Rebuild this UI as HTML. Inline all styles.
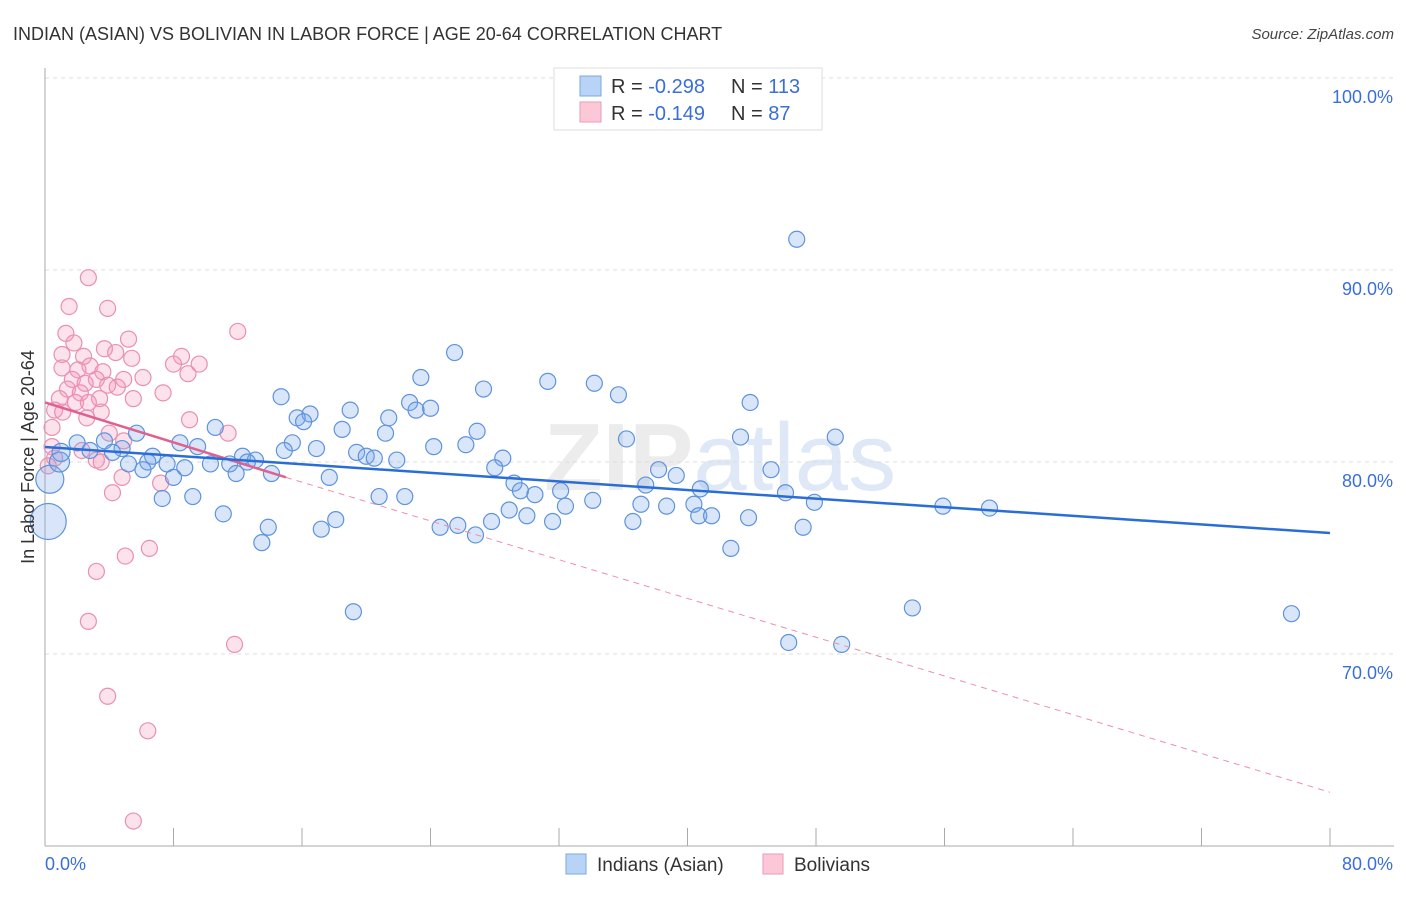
<!DOCTYPE html>
<html><head><meta charset="utf-8">
<style>
body{margin:0;background:#fff;font-family:"Liberation Sans",sans-serif;}
svg text{font-family:"Liberation Sans",sans-serif;}
</style></head>
<body>
<svg id="chart" width="1406" height="892" xmlns="http://www.w3.org/2000/svg">
<text x="13" y="40" font-size="18" fill="#333">INDIAN (ASIAN) VS BOLIVIAN IN LABOR FORCE | AGE 20-64 CORRELATION CHART</text>
<text x="1394" y="39" font-size="15" fill="#444" text-anchor="end" font-style="italic">Source: ZipAtlas.com</text>
<text x="720" y="490" font-size="96" fill="#ececec" text-anchor="middle" font-weight="bold">ZIP<tspan fill="#dfe8f6" font-weight="normal">atlas</tspan></text>
<g id="grid"></g>
<g id="axes"></g>
<g id="pink"></g>
<g id="blue"></g>
<g id="trends"></g>
<text transform="translate(34,457) rotate(-90)" font-size="18" fill="#333" text-anchor="middle">In Labor Force | Age 20-64</text>
<g>
<rect x="554" y="68" width="268" height="62" fill="#fff" stroke="#ddd"/>
<rect x="580" y="76" width="21" height="20" fill="#b8d3f5" stroke="#7aa7e5"/>
<rect x="580" y="102" width="21" height="20" fill="#fcc8d8" stroke="#eb9ab6"/>
<text x="611" y="93" font-size="20" fill="#333">R = <tspan fill="#3a6fd8">-0.298</tspan><tspan x="731">N = </tspan><tspan fill="#3a6fd8">113</tspan></text>
<text x="611" y="120" font-size="20" fill="#333">R = <tspan fill="#3a6fd8"> -0.149</tspan><tspan x="731">N = </tspan><tspan fill="#3a6fd8"> 87</tspan></text>
</g>
<g>
<rect x="566" y="854" width="20" height="20" fill="#b8d3f5" stroke="#7aa7e5"/>
<text x="597" y="871" font-size="19" fill="#333">Indians (Asian)</text>
<rect x="763" y="854" width="20" height="20" fill="#fcc8d8" stroke="#eb9ab6"/>
<text x="794" y="871" font-size="19" fill="#333">Bolivians</text>
</g>
</svg>
<script>
const yTicks=[70,80,90,100];
const yTickLabels=["70.0%","80.0%","90.0%","100.0%"];
const xTickCount=[0,8,16,24,32,40,48,56,64,72,80];
const blueX=[46.8,25.5,23.4,31.3,34.2,27.3,35.7,14.7,22.7,43.9,19.0,24.0,23.1,16.5,15.7,16.1,21.4,18.5,26.9,21.2,10.6,5.7,36.2,43.3,49.2,15.4,8.4,26.2,24.2,16.9,14.9,9.5,3.7,2.0,4.8,2.8,4.2,19.4,20.0,20.5,21.9,28.5,12.3,13.1,6.7,6.4,5.2,7.6,10.3,11.5,12.6,8.7,14.1,11.9,6.1,8.0,28.0,38.2,39.3,45.2,17.7,29.2,37.4,29.6,30.5,32.1,40.8,46.1,20.8,22.4,9.2,7.3,34.1,47.9,55.9,58.8,28.9,32.4,37.1,38.7,40.4,40.7,41.5,11.1,30.0,27.8,31.6,36.6,43.8,18.1,13.9,17.2,24.6,25.7,26.8,47.2,13.5,42.7,19.2,54.0,77.6,46.3,49.6,0.3,0.2,0.9,1.0];
const blueY=[91.6,85.7,84.4,84.2,84.1,83.8,83.5,83.4,83.1,83.1,82.7,82.8,82.7,82.5,82.3,82.1,82.3,81.7,81.6,81.5,81.8,81.5,81.2,81.3,81.3,81.0,81.0,80.9,80.8,80.7,80.6,80.8,81.1,81.0,80.7,80.6,80.5,80.5,80.3,80.2,80.1,80.2,80.3,80.1,80.3,80.0,79.9,79.9,79.9,79.9,80.0,79.7,79.4,79.4,79.6,79.2,79.7,79.6,79.3,79.6,79.2,78.9,78.8,78.5,78.3,78.5,78.6,78.4,78.2,78.2,78.2,78.1,78.0,77.9,77.7,77.6,77.5,77.7,77.8,77.7,77.8,77.2,77.2,77.3,77.2,76.9,76.9,76.9,77.1,77.0,76.6,76.5,76.6,76.7,76.2,76.6,75.8,75.5,72.2,72.4,72.1,70.6,70.5,79.1,76.9,80.0,80.5];
const blueR=[8,8,8,8,8,8,8,8,8,8,8,8,8,8,8,8,8,8,8,8,8,8,8,8,8,8,8,8,8,8,8,8,8,8,8,8,8,8,8,8,8,8,8,8,8,8,8,8,8,8,8,8,8,8,8,8,8,8,8,8,8,8,8,8,8,8,8,8,8,8,8,8,8,8,8,8,8,8,8,8,8,8,8,8,8,8,8,8,8,8,8,8,8,8,8,8,8,8,8,8,8,8,8,14,18,10,9];
const pinkX=[2.7,1.5,3.9,12.0,1.3,5.2,1.8,3.7,8.5,1.06,4.4,2.4,5.4,9.6,8.0,1.06,2.8,2.05,3.6,8.9,6.1,1.7,3.2,4.9,3.9,2.5,4.5,1.4,7.35,2.2,3.4,5.5,0.9,1.9,2.7,0.6,3.5,1.1,2.6,9.0,0.44,11.4,4.0,4.9,0.44,2.3,3.2,0.6,3.5,0.2,4.8,7.2,4.2,6.5,5.0,3.2,2.7,11.8,3.9,6.4,5.5];
const pinkY=[89.6,88.1,88.0,86.8,86.7,86.4,86.2,85.9,85.5,85.6,85.7,85.5,85.4,85.1,85.1,84.9,85.0,84.8,84.7,84.6,84.4,84.3,84.3,84.3,84.0,84.1,83.9,83.8,83.6,83.6,83.3,83.3,83.3,83.1,83.1,82.7,82.6,82.6,82.3,82.2,81.8,81.5,81.5,81.1,80.8,80.6,80.1,80.2,80.0,79.8,79.2,78.9,78.4,75.5,75.1,74.3,71.7,70.5,67.8,66.0,61.3];
const blueTrend=[[0,80.78],[80,76.3]];
const pinkTrend=[[0,83.1],[15,79.2]];
const pinkDash=[[15,79.2],[80,62.8]];
const NS="http://www.w3.org/2000/svg";
const X0=45,X1=1330,Y0=846,Y1=78;
const xs=v=>X0+(v/80)*(X1-X0);
const ys=v=>Y0-((v-60)/40)*(Y0-Y1);
function mk(tag,attrs,parent){const e=document.createElementNS(NS,tag);for(const k in attrs)e.setAttribute(k,attrs[k]);parent.appendChild(e);return e;}
const grid=document.getElementById('grid'),axes=document.getElementById('axes');
yTicks.forEach((t,i)=>{
 const l=mk('line',{x1:X0,x2:1394,y1:ys(t),y2:ys(t),stroke:'#ddd','stroke-dasharray':'4,4'},grid);
 
 
 const tx=mk('text',{x:1393,y:ys(t)+25,'font-size':18,fill:'#3a6fd8','text-anchor':'end'},axes);
 tx.textContent=yTickLabels[i];
 
 
});
const ax=mk('line',{x1:X0,x2:X0,y1:68,y2:Y0,stroke:'#aaa'},axes);


const bx=mk('line',{x1:X0,x2:1394,y1:Y0,y2:Y0,stroke:'#aaa'},axes);


xTickCount.forEach(t=>{
 const l=mk('line',{x1:xs(t),x2:xs(t),y1:Y0,y2:Y0-18,stroke:'#aaa'},axes);
 
 
});
const xl=mk('text',{x:45,y:870,'font-size':18,fill:'#3a6fd8'},axes);xl.textContent='0.0%';


const xr=mk('text',{x:1393,y:870,'font-size':18,fill:'#3a6fd8','text-anchor':'end'},axes);xr.textContent='80.0%';


const pg=document.getElementById('pink');
pinkX.forEach((x,i)=>{
 const c=mk('circle',{cx:xs(x),cy:ys(pinkY[i]),r:8,fill:'rgba(244,150,182,0.28)',stroke:'#eb8fb0','stroke-width':1.2},pg);
 
 
});
const bg=document.getElementById('blue');
blueX.forEach((x,i)=>{
 const c=mk('circle',{cx:xs(x),cy:ys(blueY[i]),r:blueR[i],fill:'rgba(120,165,235,0.28)',stroke:'#5e93dd','stroke-width':1.2},bg);
 
 
});
const tg=document.getElementById('trends');
const d=mk('line',{x1:xs(pinkDash[0][0]),y1:ys(pinkDash[0][1]),x2:xs(pinkDash[1][0]),y2:ys(pinkDash[1][1]),stroke:'#eb8fb0','stroke-dasharray':'6,5','stroke-width':1},tg);


const p=mk('line',{x1:xs(pinkTrend[0][0]),y1:ys(pinkTrend[0][1]),x2:xs(pinkTrend[1][0]),y2:ys(pinkTrend[1][1]),stroke:'#e0608e','stroke-width':2.5},tg);


const b=mk('line',{x1:xs(blueTrend[0][0]),y1:ys(blueTrend[0][1]),x2:xs(blueTrend[1][0]),y2:ys(blueTrend[1][1]),stroke:'#2a6dd6','stroke-width':2.5},tg);


</script>
</body></html>
